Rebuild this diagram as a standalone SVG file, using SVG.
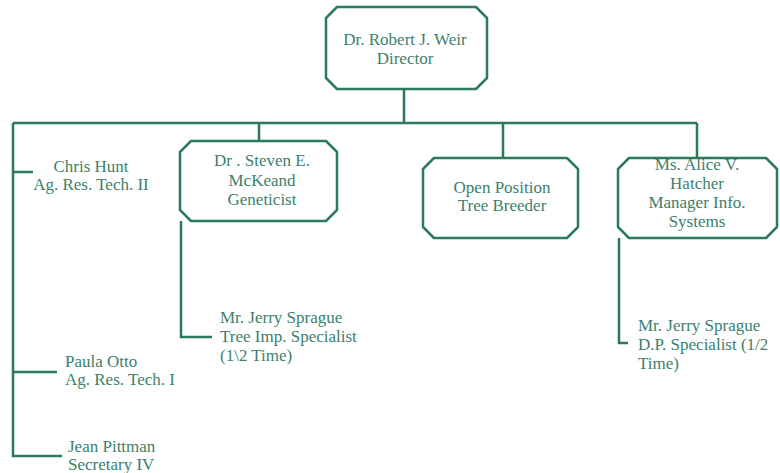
<svg xmlns="http://www.w3.org/2000/svg" width="780" height="473" viewBox="0 0 780 473">
<style>
.box{fill:#fff;stroke:#2b7a5a;stroke-width:2.5;stroke-linejoin:round}
.ln{fill:none;stroke:#2b7a5a;stroke-width:2.5}
text{font-family:"Liberation Serif","Times New Roman",serif;font-size:17px;fill:#3d7f6c}
.c{text-anchor:middle}
</style>
<rect width="780" height="473" fill="#fff"/>
<g id="connectors">
<path class="ln" d="M404 89V123M13 123H697M259 123V141M503 123V158M697 123V158"/>
<path class="ln" d="M13 123V456H62M13 172H33M13 372H57"/>
<path class="ln" d="M181 221V337H212"/>
<path class="ln" d="M619 238V343H628"/>
</g>
<g id="director">
<polygon class="box" points="337,7 476,7 487,18 487,78 476,89 337,89 326,78 326,18"/>
<text class="c" x="405" y="45">Dr. Robert J. Weir</text>
<text class="c" x="405" y="64">Director</text>
</g>
<g id="mckeand">
<polygon class="box" points="191,141 326,141 337,152 337,210 326,221 191,221 180,210 180,152"/>
<text class="c" x="262" y="166">Dr . Steven E.</text>
<text class="c" x="262" y="186">McKeand</text>
<text class="c" x="262" y="205">Geneticist</text>
</g>
<g id="open">
<polygon class="box" points="434,158 567,158 578,169 578,227 567,238 434,238 423,227 423,169"/>
<text class="c" x="502" y="193">Open Position</text>
<text class="c" x="502" y="211">Tree Breeder</text>
</g>
<g id="hatcher">
<polygon class="box" points="629,158 766,158 777,169 777,227 766,238 629,238 618,227 618,169"/>
<text class="c" x="697" y="170">Ms. Alice V.</text>
<text class="c" x="697" y="189">Hatcher</text>
<text class="c" x="697" y="208">Manager Info.</text>
<text class="c" x="697" y="227">Systems</text>
</g>
<g id="hunt">
<text class="c" x="91" y="172">Chris Hunt</text>
<text class="c" x="91" y="190">Ag. Res. Tech. II</text>
</g>
<g id="otto">
<text x="65" y="367">Paula Otto</text>
<text x="65" y="385">Ag. Res. Tech. I</text>
</g>
<g id="pittman">
<text x="68" y="452">Jean Pittman</text>
<text x="68" y="470">Secretary IV</text>
</g>
<g id="sprague1">
<text x="220" y="323">Mr. Jerry Sprague</text>
<text x="220" y="342">Tree Imp. Specialist</text>
<text x="220" y="361">(1\2 Time)</text>
</g>
<g id="sprague2">
<text x="638" y="331">Mr. Jerry Sprague</text>
<text x="638" y="350">D.P. Specialist (1/2</text>
<text x="638" y="369">Time)</text>
</g>
</svg>
